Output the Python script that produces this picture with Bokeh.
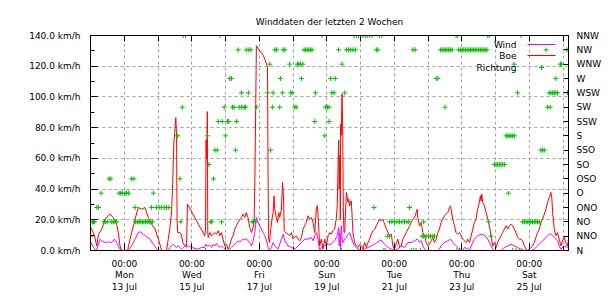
import datetime as dt
from bokeh.plotting import figure
from bokeh.models import Range1d, LinearAxis, FixedTicker, PrintfTickFormatter, Label, Arrow
from bokeh.embed import file_html
from bokeh.resources import INLINE

# x = hours since Mon 13 Jul 00:00
START = dt.datetime(2015, 7, 13, 0, 0)

boe_h = [
    -23.7, -21.3, -19.6, -18.4, -16.1, -13.7, -10.2, -7.9, -5.5, -4.3, -3.1, -1.9,
    2.4, 2.9, 5.2, 7.6, 9.9, 12.3, 14.6, 17.0, 19.4, 21.8, 24.2, 26.5,
    30.0, 31.2, 32.4, 33.6, 34.4, 35.2, 35.8, 36.6, 37.1, 37.5, 37.9, 39.4,
    40.4, 41.9, 44.2, 44.9, 57.2, 57.7, 58.1, 58.5, 59.0, 59.3, 59.6,
    60.8, 62.0, 63.2, 64.3, 65.5, 66.7, 67.9, 69.0, 70.2, 71.4, 72.6, 73.8,
    74.9, 76.1, 77.3, 78.5, 79.7, 80.9, 82.1, 83.2, 84.4, 85.6, 86.7, 87.9,
    89.2, 90.4, 91.6, 92.3, 92.8, 93.2, 93.9, 96.3, 98.7, 99.9, 101.1, 101.8,
    102.2, 102.6, 103.3, 104.1, 105.0, 105.8, 106.5, 107.0, 108.2, 108.9, 109.8, 110.5,
    111.7, 112.5, 113.2, 113.7, 114.6, 116.4, 117.6, 118.8, 120.0, 121.2, 122.4, 123.6,
    124.7, 125.9, 127.1, 128.2, 129.4, 130.6, 131.8, 133.0, 134.2, 135.4, 136.6, 137.3,
    137.7, 138.4, 138.9, 140.1, 141.3, 142.5, 143.7, 144.9, 146.0, 147.1, 148.3, 149.5,
    150.7, 151.4, 151.9, 152.4, 152.8, 153.3, 153.6, 153.8, 154.3, 154.8, 155.3, 155.7,
    156.2, 156.7, 157.9, 159.1, 159.6, 160.2, 161.4, 162.1, 162.6, 163.8, 165.0, 166.2,
    167.4, 168.6, 169.7, 170.9, 172.1, 173.3, 174.4, 175.6, 176.8, 178.0, 179.2, 180.4,
    181.5, 182.7, 183.9, 185.1, 186.3, 187.5, 188.7, 189.9, 191.0, 192.1, 193.3, 194.5,
    195.7, 196.9, 198.1, 199.3, 200.5, 201.7, 202.9, 204.0, 205.2, 206.4, 207.5, 208.3,
    208.7, 209.9, 211.1, 212.3, 213.5, 214.7, 215.8, 217.0, 218.2, 219.4, 220.6, 221.8,
    223.0, 224.1, 225.2, 226.4, 227.6, 228.8, 230.0, 231.2, 232.0, 232.4, 233.6, 234.8,
    235.9, 237.1, 238.3, 239.5, 240.7, 241.9, 243.1, 244.3, 245.5, 246.7, 247.8, 248.9,
    250.1, 251.3, 252.5, 253.2, 253.7, 254.2, 254.9, 256.1, 257.3, 258.5, 259.6, 260.8,
    262.0, 263.2, 264.4, 265.5, 266.7, 267.9, 269.1, 270.3, 271.5, 272.7, 273.8, 275.0,
    276.2, 277.4, 278.5, 279.7, 280.9, 282.1, 283.3, 284.5, 285.7, 286.9, 288.0, 289.2,
    290.3, 291.5, 292.7, 293.9, 295.1, 296.3, 297.5, 298.7, 299.9, 301.0, 302.2, 303.4,
    304.1, 304.6, 305.8, 306.9, 308.1, 309.3, 310.5, 311.6, 312.8, 314.0, 315.2, 315.9,
]
boe = [
    15.0, 9.6, 3.0, 10.6, 13.9, 20.4, 23.7, 21.5, 17.1, 11.7, 3.0, 0.0,
    0.0, 3.0, 11.7, 20.4, 28.0, 26.9, 28.0, 21.5, 17.1, 13.9, 7.4, 0.0,
    0.0, 7.4, 15.0, 25.0, 45.0, 70.0, 77.0, 86.5, 75.0, 20.0, 11.7, 11.7,
    10.6, 4.1, 3.0, 30.1, 9.6, 14.0, 72.0, 60.0, 90.5, 12.0, 8.5,
    11.7, 9.6, 10.6, 11.7, 10.6, 12.8, 9.6, 11.7, 7.4, 3.0, 4.1, 0.9,
    3.0, 7.4, 9.6, 13.9, 16.1, 18.2, 20.4, 21.5, 23.7, 21.5, 24.7, 21.5,
    15.0, 11.7, 15.0, 20.4, 44.0, 77.0, 133.3, 130.0, 127.2, 124.6, 121.3, 119.2,
    50.0, 7.4, 5.2, 13.9, 20.4, 24.7, 35.6, 26.9, 20.4, 18.2, 24.7, 21.5,
    26.9, 44.3, 35.0, 12.8, 11.7, 10.6, 9.6, 11.7, 7.4, 8.5, 9.6, 7.4,
    6.3, 8.5, 13.9, 16.1, 18.2, 22.6, 20.4, 21.5, 18.2, 11.7, 28.0, 29.1,
    23.7, 11.7, 3.0, 7.4, 0.9, 7.4, 3.0, 9.6, 11.7, 10.6, 12.8, 13.9,
    20.4, 29.0, 50.0, 72.0, 40.0, 62.0, 20.0, 82.0, 75.0, 102.0, 80.0, 28.0,
    12.0, 11.7, 37.8, 31.3, 33.4, 29.1, 32.3, 20.4, 11.7, 5.2, 3.0, 2.0,
    4.1, 3.0, 0.9, 5.2, 2.0, 5.2, 7.4, 10.6, 12.8, 13.9, 16.1, 18.2,
    20.4, 19.3, 20.4, 17.1, 13.9, 11.7, 9.6, 10.6, 3.0, 0.9, 4.1, 7.4,
    2.0, 3.0, 7.4, 9.6, 11.7, 13.9, 16.1, 18.2, 20.4, 21.5, 24.7, 26.9,
    21.5, 16.1, 18.2, 11.7, 9.6, 5.2, 3.0, 4.1, 6.3, 8.5, 5.2, 7.4,
    11.7, 13.9, 18.2, 20.4, 22.6, 23.7, 24.7, 28.0, 29.1, 26.9, 20.4, 16.1,
    11.7, 10.6, 11.7, 9.6, 7.4, 6.3, 5.2, 7.4, 5.2, 9.6, 13.9, 18.2,
    20.4, 26.9, 31.3, 35.6, 32.3, 36.7, 31.3, 29.1, 24.7, 20.4, 16.1, 9.6,
    3.0, 5.2, 2.0, 5.2, 7.4, 9.6, 11.7, 13.9, 16.1, 13.9, 16.1, 17.1,
    16.1, 13.9, 11.7, 8.5, 7.4, 7.4, 6.3, 3.0, 0.9, 0.0, 0.9, 2.0,
    3.0, 5.2, 8.5, 11.7, 13.9, 18.2, 20.4, 23.7, 26.9, 31.3, 34.5, 37.8,
    33.4, 24.7, 13.9, 9.6, 11.7, 7.4, 3.0, 6.3, 8.5, 5.2, 3.0, 7.4,
]

wind_h = [
    -23.7, -22.0, -20.4, -19.6, -17.2, -16.1, -13.7, -11.4, -9.0, -7.1, -5.5, -3.1,
    -1.9, 2.9, 5.2, 7.6, 9.9, 11.1, 13.5, 15.8, 18.2, 20.6, 23.0, 24.2,
    31.2, 32.4, 33.6, 34.8, 35.9, 37.1, 38.3, 39.5, 40.7, 41.9, 43.1, 44.3,
    45.5, 47.9, 50.1, 52.5, 54.9, 57.2, 57.9, 58.4, 59.6, 60.8, 62.0, 63.2,
    64.3, 65.5, 66.7, 67.9, 69.0, 70.2, 71.4, 72.6, 73.8, 74.9, 76.1, 77.3,
    78.5, 79.7, 80.9, 82.1, 83.2, 84.4, 85.6, 86.7, 87.9, 89.2, 90.4, 91.6,
    92.8, 93.9, 95.1, 96.3, 97.5, 98.7, 99.9, 101.1, 102.2, 103.3, 104.6, 105.8,
    107.0, 109.3, 111.7, 112.9, 114.1, 116.4, 118.8, 121.2, 123.6, 125.9, 128.2, 130.6,
    133.0, 134.2, 135.4, 136.6, 137.7, 138.9, 140.1, 142.5, 144.9, 147.1, 149.5, 151.4,
    152.4, 152.8, 153.3, 153.8, 154.3, 154.8, 155.5, 156.7, 157.9, 159.1, 160.2, 161.4,
    162.6, 163.8, 165.0, 166.2, 168.6, 170.9, 173.3, 175.6, 178.0, 180.4, 181.5, 182.7,
    183.9, 185.1, 187.5, 189.9, 192.1, 194.5, 196.9, 199.3, 201.7, 204.0, 206.4, 208.3,
    209.9, 211.1, 212.3, 213.5, 214.7, 223.0, 224.1, 225.2, 227.6, 230.0, 232.0, 233.6,
    235.9, 238.3, 240.7, 241.9, 244.3, 245.5, 246.7, 248.9, 251.3, 253.7, 256.1, 258.5,
    260.8, 262.0, 263.2, 267.9, 270.3, 272.7, 275.0, 277.4, 279.7, 282.1, 284.5, 289.2,
    291.5, 293.9, 296.3, 298.7, 301.0, 302.2, 303.4, 305.8, 308.1, 309.3, 310.5, 312.8, 315.2, 315.9,
]
wind = [
    5.2, 2.0, 0.0, 0.9, 7.4, 6.3, 5.2, 5.6, 5.2, 7.4, 5.2, 0.9,
    0.0, 0.0, 3.0, 7.4, 11.7, 12.2, 10.6, 9.1, 7.4, 4.1, 0.9, 0.0,
    0.0, 2.0, 3.0, 4.1, 3.0, 2.0, 3.0, 2.0, 0.9, 2.0, 3.0, 2.0,
    3.0, 2.0, 1.3, 0.9, 2.0, 2.0, 4.1, 3.0, 3.0, 3.5, 2.0, 4.1,
    3.0, 4.6, 3.0, 2.0, 3.0, 2.0, 0.9, 0.0, 0.0, 0.9, 2.0, 3.0,
    4.1, 5.2, 6.3, 5.6, 6.3, 7.4, 6.9, 7.8, 6.3, 5.2, 3.0, 6.3,
    11.7, 21.5, 18.2, 16.1, 13.9, 11.7, 9.6, 6.3, 2.0, 0.0, 2.0, 5.2,
    3.0, 0.9, 7.4, 10.6, 6.3, 3.0, 2.0, 0.9, 3.0, 5.2, 7.4, 7.4,
    8.5, 6.3, 9.6, 11.7, 7.4, 0.0, 2.0, 3.0, 4.1, 4.1, 6.3, 9.6,
    15.0, 3.0, 11.7, 0.0, 16.1, 8.5, 5.2, 7.4, 8.5, 10.6, 11.7, 8.5,
    5.2, 3.0, 2.0, 0.9, 0.0, 0.9, 2.0, 3.0, 4.1, 5.6, 6.3, 6.9,
    5.2, 4.1, 2.0, 0.9, 0.0, 0.9, 3.0, 2.0, 5.2, 5.2, 6.3, 7.4,
    5.6, 6.3, 3.0, 0.9, 0.0, 0.0, 0.9, 3.0, 5.2, 6.3, 7.4, 5.2,
    3.0, 0.9, 0.0, 2.0, 0.9, 0.0, 3.0, 7.4, 9.6, 10.6, 10.0, 7.4,
    3.0, 0.9, 0.0, 0.0, 2.0, 3.0, 4.1, 3.0, 2.0, 0.9, 0.0, 0.0,
    0.9, 3.0, 5.2, 7.4, 9.6, 10.6, 10.6, 8.5, 6.3, 3.0, 0.9, 3.0, 2.0, 3.0,
]

richtungen = ["N", "NNO", "NO", "ONO", "O", "OSO", "SO", "SSO",
              "S", "SSW", "SW", "WSW", "W", "WNW", "NW", "NNW"]

richtung_h = {
    "N": [57.7, 154.3, 184.5, 185.5, 204.0, 205.9, 207.5, 210.6, 236.6, 238.3, 276.2, 278.6, 280.9],
    "NNO": [-23.9, 187.0, 188.7, 211.8, 212.9, 214.6, 216.3, 217.7, 219.4, 220.6, 260.8],
    "NO": [-22.7, -22.0, -21.3, -14.5, -13.3, -11.8, -9.0, -7.9, -6.7, -5.5,
           8.0, 9.2, 10.4, 11.6, 12.8, 13.9, 15.1, 16.3, 17.5, 18.7, 19.9,
           40.2, 61.5, 62.0, 69.1, 90.9, 92.0, 93.2,
           188.7, 190.3, 192.1, 193.8, 195.7, 197.4, 199.3, 200.9, 202.3, 212.9, 259.1,
           283.3, 284.5, 285.7, 286.9, 287.9, 289.2, 290.3, 291.5, 292.7, 293.9, 295.1],
    "ONO": [-19.6, -18.4, 7.6, 19.4, 23.0, 24.7, 26.5, 28.4, 30.0, 31.7, 177.5, 202.8],
    "O": [-16.5, -3.8, -2.6, -1.4, 0.5, 1.7, 2.9, 20.6, 273.1],
    "OSO": [-10.9, -9.7, 5.2, 6.8, 39.5, 63.4],
    "SO": [60.1, 263.2, 264.4, 265.5, 266.7, 267.9, 269.1, 270.3],
    "SSO": [64.4, 66.0, 79.0, 103.9, 296.3, 297.5, 298.7],
    "S": [37.1, 37.8, 59.1, 71.9, 142.5, 271.5, 272.7, 273.8, 275.0, 276.2, 277.4],
    "SSW": [66.8, 69.5, 73.3, 74.3, 79.8, 135.4, 145.6],
    "SW": [41.2, 71.0, 76.9, 78.1, 81.6, 83.3, 85.2, 86.1, 93.9, 105.3, 110.5,
           121.2, 122.2, 143.0, 144.4, 145.6, 228.1, 301.0, 302.9],
    "WSW": [83.3, 88.2, 101.7, 105.8, 112.4, 118.3, 119.3, 136.0, 147.6, 149.1, 156.7,
            279.7, 302.2, 303.4, 304.6, 305.8, 306.9, 308.1, 315.2],
    "W": [75.0, 76.2, 111.0, 125.9, 146.7, 150.0, 221.8, 223.0, 306.9],
    "WNW": [103.4, 117.6, 123.1, 124.0, 125.4, 127.0, 154.8, 277.2, 310.1, 311.0],
    "NW": [80.9, 86.7, 88.5, 90.0, 107.0, 108.2, 112.9, 114.1,
           127.8, 128.7, 130.1, 131.3, 132.5, 133.5, 152.4,
           157.9, 159.5, 160.9, 162.6, 164.3, 179.2, 180.3, 205.2, 206.8,
           224.8, 226.0, 227.2, 228.3, 229.5, 230.7, 231.9, 233.1,
           237.6, 239.0, 240.2, 241.4, 242.6, 243.8, 245.0, 246.2, 247.3, 248.5,
           249.6, 250.8, 252.0, 253.2, 254.4, 255.6, 256.7, 257.9, 299.9, 314.7],
    "NNW": [41.9, 43.5, 68.0, 140.6, 163.3, 165.0, 166.6, 168.1, 169.6, 171.3, 172.7,
            174.4, 176.1, 181.5, 183.1, 235.9, 237.1, 258.4, 259.6, 282.1],
}

kmh_ticks = [0, 20, 40, 60, 80, 100, 120, 140]
kmh_minor = [10, 30, 50, 70, 90, 110, 130]
label_days = [0, 48, 96, 144, 192, 240, 288]
all_days = list(range(-24, 316, 24))
titel = "Winddaten der letzten 2 Wochen"

# ---------- layout ----------
W, H = 610, 300
BL, BR, BT, BB = 90, 42, 35, 50
X0, X1 = -24.1, 315.9
Y0, Y1 = 0, 140
FONT = "DejaVu Sans"
FS = "9px"
GREEN, RED, MAG = "#00c000", "#ff0000", "#ff00ff"

fw, fh = W - BL - BR, H - BT - BB

def fx(px):
    return X0 + (px - BL) / fw * (X1 - X0)

def fy(py):
    return Y0 + (BT + fh - py) / fh * (Y1 - Y0)

p = figure(width=W, height=H, x_range=Range1d(X0, X1), y_range=Range1d(Y0, Y1),
           output_backend="svg", toolbar_location=None, title=titel,
           min_border_left=BL, min_border_right=BR, min_border_top=BT, min_border_bottom=BB)
p.background_fill_color = "white"
p.border_fill_color = "white"
p.outline_line_color = "black"
p.outline_line_width = 1

p.title.align = "center"
p.title.text_font = FONT
p.title.text_font_size = FS
p.title.text_font_style = "normal"
p.title.text_color = "black"
p.title.standoff = 18

day_labels = {t: (START + dt.timedelta(hours=t)).strftime("%H:%M\n%a\n%d %b") for t in label_days}

xa = p.xaxis[0]
xa.ticker = FixedTicker(ticks=label_days, minor_ticks=all_days)
xa.major_label_overrides = day_labels
xa.major_tick_in, xa.major_tick_out = 7, 0
xa.minor_tick_in, xa.minor_tick_out = 4, 0
xa.major_label_standoff = 8
xa.major_label_text_font = FONT
xa.major_label_text_font_size = FS
xa.major_label_text_color = "black"
xa.major_label_text_line_height = 1.15
xa.axis_line_color = "black"

ya = p.yaxis[0]
ya.ticker = FixedTicker(ticks=kmh_ticks, minor_ticks=kmh_minor)
ya.formatter = PrintfTickFormatter(format="%.1f km/h")
ya.major_tick_in, ya.major_tick_out = 7, 0
ya.minor_tick_in, ya.minor_tick_out = 4, 0
ya.major_label_standoff = 10
ya.major_label_text_font = FONT
ya.major_label_text_font_size = FS
ya.major_label_text_color = "black"

# top border: only tick marks (daily), no labels
top = LinearAxis(ticker=FixedTicker(ticks=[], minor_ticks=all_days),
                 minor_tick_in=6, minor_tick_out=0, major_tick_in=0, major_tick_out=0,
                 major_label_standoff=0)
p.add_layout(top, "above")

p.extra_y_ranges = {"dir": Range1d(0, 15)}
ra = LinearAxis(y_range_name="dir", ticker=FixedTicker(ticks=list(range(16))),
                major_label_overrides={i: n for i, n in enumerate(richtungen)},
                major_tick_in=5, major_tick_out=0, minor_tick_line_color=None,
                major_label_standoff=8, major_label_text_font=FONT,
                major_label_text_font_size=FS, major_label_text_color="black")
p.add_layout(ra, "right")

p.xgrid.ticker = FixedTicker(ticks=all_days)
p.ygrid.ticker = FixedTicker(ticks=kmh_ticks)
for g in (p.xgrid[0], p.ygrid[0]):
    g.grid_line_color = "#a0a0a0"
    g.grid_line_dash = "3 3"
    g.grid_line_width = 1

# ---------- data ----------
p.line(wind_h, wind, line_color=MAG, line_width=1)
p.line(boe_h, boe, line_color=RED, line_width=1)

rx, ry = [], []
for k, name in enumerate(richtungen):
    for t in richtung_h[name]:
        rx.append(t)
        ry.append(k)
p.scatter(rx, ry, marker="cross", size=5, line_color=GREEN, line_width=1,
          y_range_name="dir")

# ---------- legend (gnuplot style: text left, sample right) ----------
for txt, py in (("Wind", 44), ("Boe", 55), ("Richtung", 67)):
    p.add_layout(Label(x=fx(516), y=fy(py), text=txt, text_align="right",
                       text_baseline="middle", text_font=FONT, text_font_size=FS,
                       text_color="black"))
for col, py in ((MAG, 44), (RED, 55)):
    p.add_layout(Arrow(x_start=fx(527), y_start=fy(py), x_end=fx(555), y_end=fy(py),
                       end=None, line_color=col, line_width=1))
p.scatter([fx(541)], [fy(67)], marker="cross", size=5, line_color=GREEN, line_width=1)

open("out.html", "w").write(file_html(p, INLINE))
